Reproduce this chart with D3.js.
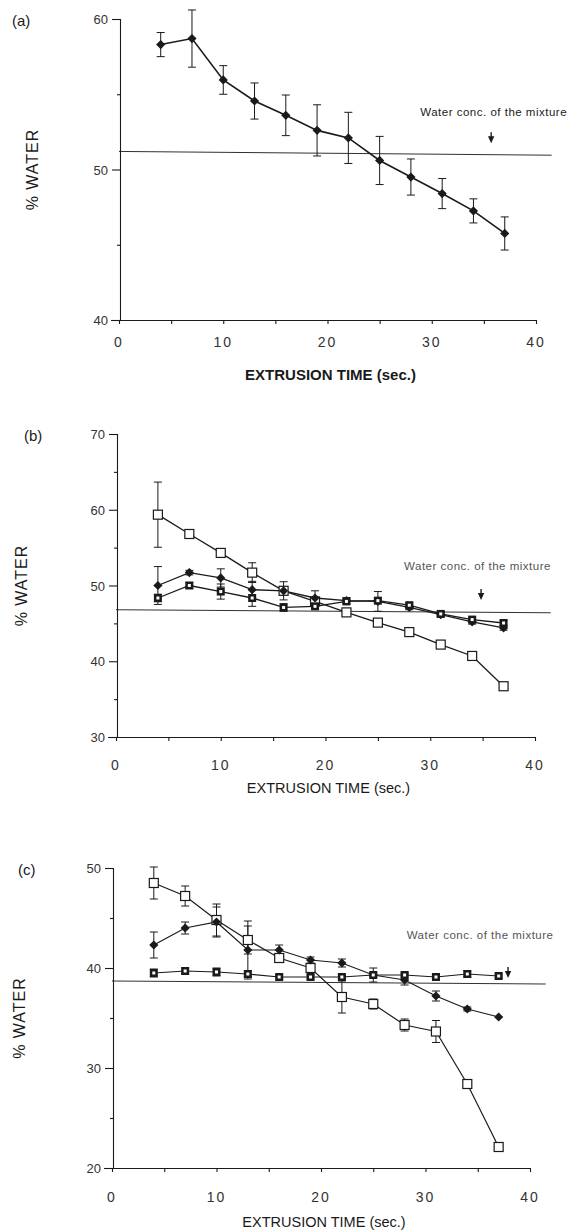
<!DOCTYPE html>
<html>
<head>
<meta charset="utf-8">
<script src="https://cdn.jsdelivr.net/npm/d3@7.9.0/dist/d3.min.js"></script>
<style>
  body { margin: 0; background: #fff; }
  svg { display: block; font-family: "Liberation Sans", Arial, sans-serif; }
</style>
</head>
<body>
<svg id="chart" width="583" height="1230"></svg>
<script>
// extrusion times (sec.)
const times = [4, 7, 10, 13, 16, 19, 22, 25, 28, 31, 34, 37];

// panel (a)
const aMean = [58.3, 58.7, 55.95, 54.55, 53.6, 52.6, 52.1, 50.6, 49.5, 48.4, 47.25, 45.75];
const aErr = [0.8, 1.9, 0.95, 1.2, 1.35, 1.7, 1.7, 1.6, 1.2, 1.0, 0.8, 1.1];
const aMix = [51.2, 50.95];

// panel (b)
const bOpenMean = [59.35, 56.8, 54.3, 51.7, 49.3, 47.9, 46.45, 45.1, 43.85, 42.2, 40.7, 36.7];
const bOpenErr = [4.3, 0.4, 0.3, 1.3, 0.5, 0, 0, 0, 0, 0, 0, 0];
const bDiamondMean = [50.0, 51.7, 51.0, 49.45, 49.3, 48.35, 48.0, 47.9, 47.1, 46.15, 45.2, 44.4];
const bDiamondErr = [2.5, 0.3, 1.2, 1.1, 1.2, 0.95, 0.4, 1.3, 0.3, 0.3, 0.3, 0.3];
const bSquareMean = [48.35, 50.0, 49.2, 48.35, 47.1, 47.25, 47.9, 48.0, 47.4, 46.25, 45.5, 45.05];
const bSquareErr = [0.5, 0.4, 1.0, 1.1, 0.5, 0.3, 0.3, 0.3, 0.3, 0.3, 0.3, 0.3];
const bMix = [46.8, 46.4];

// panel (c)
const cOpenMean = [48.5, 47.2, 44.8, 42.8, 41.0, 40.0, 37.1, 36.4, 34.3, 33.65, 28.4, 22.1];
const cOpenErr = [1.6, 1.0, 1.6, 1.4, 0.3, 0.3, 1.6, 0.5, 0.6, 1.1, 0, 0];
const cDiamondMean = [42.3, 44.0, 44.6, 41.8, 41.8, 40.8, 40.5, 39.3, 38.8, 37.2, 35.9, 35.1];
const cDiamondErr = [1.3, 0.6, 1.5, 2.9, 0.5, 0.3, 0.4, 0.7, 0.5, 0.5, 0.2, 0];
const cSquareMean = [39.5, 39.7, 39.6, 39.4, 39.1, 39.1, 39.1, 39.3, 39.3, 39.1, 39.4, 39.2];
const cSquareErr = [0.4, 0.3, 0.4, 0.3, 0.2, 0.2, 0.2, 0.2, 0.2, 0.2, 0.3, 0.2];
const cMix = [38.7, 38.4];

const xTicks = [0, 10, 20, 30, 40];
const mixLabel = 'Water conc. of the mixture';

const svg = d3.select('#chart');
const ink = '#1a1a1a';

function drawMarker(g, kind, cx, cy) {
  if (kind === 'diamond') {
    const r = 4.6;
    g.append('path')
      .attr('d', `M${cx},${cy - r}L${cx + r},${cy}L${cx},${cy + r}L${cx - r},${cy}Z`)
      .attr('fill', ink);
  } else if (kind === 'open') {
    g.append('rect')
      .attr('x', cx - 4.5).attr('y', cy - 4.5)
      .attr('width', 9).attr('height', 9)
      .attr('fill', '#fff').attr('stroke', ink).attr('stroke-width', 1.2);
  } else {
    g.append('rect')
      .attr('x', cx - 4).attr('y', cy - 4)
      .attr('width', 8).attr('height', 8)
      .attr('fill', ink);
    g.append('rect')
      .attr('x', cx - 1.5).attr('y', cy - 1.5)
      .attr('width', 3).attr('height', 3)
      .attr('fill', '#fff');
  }
}

function drawPanel(p) {
  const x = d3.scaleLinear().domain([0, 40]).range([p.left, p.right]);
  const y = d3.scaleLinear().domain(p.yDomain).range([p.bottom, p.top]);
  const g = svg.append('g');

  // axes
  const xAxis = d3.axisBottom(x).tickValues(d3.range(0, 41, 5)).tickSize(4).tickFormat('');
  const gx = g.append('g').attr('transform', `translate(0,${p.bottom})`).call(xAxis);
  gx.select('.domain').attr('d', `M${p.left - 8},0.5H${p.right}`);

  const yAxis = d3.axisLeft(y).tickValues(d3.range(p.yDomain[0], p.yDomain[1] + 1, 5)).tickSize(4).tickFormat('');
  const gy = g.append('g').attr('transform', `translate(${p.left + 1},0)`).call(yAxis);
  gy.select('.domain').attr('d', `M0.5,${p.top}V${p.bottom}`);
  g.selectAll('.domain, .tick line').attr('stroke', ink).attr('stroke-width', 1.1);
  gy.selectAll('.tick line').attr('x2', (d) => (d % 10 === 0 ? -8 : -3));

  g.selectAll('.xlab').data(xTicks).join('text')
    .attr('x', (d) => x(d)).attr('y', p.bottom + p.tickDy)
    .attr('text-anchor', 'middle').attr('font-size', 14).attr('fill', '#333')
    .attr('letter-spacing', 2)
    .text((d) => d);

  g.selectAll('.ylab').data(d3.range(p.yDomain[0], p.yDomain[1] + 1, 10)).join('text')
    .attr('x', p.left - 11).attr('y', (d) => y(d) + 5)
    .attr('text-anchor', 'end').attr('font-size', 13).attr('fill', '#333')
    .text((d) => d);

  g.append('text')
    .attr('x', (p.left + p.right) / 2 + 3).attr('y', p.bottom + p.titleDy)
    .attr('text-anchor', 'middle').attr('font-size', p.bold ? 15 : 14.5)
    .attr('font-weight', p.bold ? 'bold' : 'normal').attr('fill', ink)
    .text('EXTRUSION TIME (sec.)');

  g.append('text')
    .attr('transform', `translate(${p.yTitleX},${(p.top + p.bottom) / 2}) rotate(-90)`)
    .attr('text-anchor', 'middle').attr('font-size', 16).attr('fill', ink)
    .attr('letter-spacing', 1)
    .text('% WATER');

  g.append('text')
    .attr('x', p.tagX).attr('y', p.top + 7)
    .attr('font-size', 15).attr('fill', ink)
    .text(p.tag);

  // mixture reference line
  g.append('line')
    .attr('x1', p.left).attr('x2', x(41.5))
    .attr('y1', y(p.mix[0])).attr('y2', y(p.mix[1]))
    .attr('stroke', ink).attr('stroke-width', 0.9);

  g.append('text')
    .attr('x', x(p.labelX)).attr('y', y(p.labelY))
    .attr('font-size', 11.5).attr('letter-spacing', 0.5).attr('fill', p.labelColor)
    .text(mixLabel);

  const ax = x(p.arrowX);
  const ay = y(p.arrowY);
  g.append('line').attr('x1', ax).attr('x2', ax).attr('y1', ay - 11).attr('y2', ay - 3)
    .attr('stroke', ink).attr('stroke-width', 1.4);
  g.append('path').attr('d', `M${ax - 3.2},${ay - 7}L${ax + 3.2},${ay - 7}L${ax},${ay}Z`).attr('fill', ink);

  // series
  const line = d3.line().x((d) => x(d[0])).y((d) => y(d[1]));
  p.series.forEach((s) => {
    const pts = times.map((t, i) => [t, s.mean[i], s.err[i]]);
    g.append('path').datum(pts).attr('d', line)
      .attr('fill', 'none').attr('stroke', ink).attr('stroke-width', p.lineWidth);

    pts.filter((d) => d[2] > 0).forEach((d) => {
      const cx = x(d[0]);
      const y1 = y(d[1] + d[2]);
      const y2 = y(d[1] - d[2]);
      g.append('line').attr('x1', cx).attr('x2', cx).attr('y1', y1).attr('y2', y2)
        .attr('stroke', ink).attr('stroke-width', 1);
      [y1, y2].forEach((yy) => {
        g.append('line').attr('x1', cx - 4).attr('x2', cx + 4).attr('y1', yy).attr('y2', yy)
          .attr('stroke', ink).attr('stroke-width', 1);
      });
    });
  });
  p.series.forEach((s) => {
    times.forEach((t, i) => drawMarker(g, s.kind, x(t), y(s.mean[i])));
  });
}

drawPanel({
  tag: '(a)', tagX: 12, bold: true, yTitleX: 38, tickDy: 27, titleDy: 60,
  left: 119, right: 536, top: 19, bottom: 320, yDomain: [40, 60],
  mix: aMix, labelX: 28.9, labelY: 53.55, labelColor: '#222',
  arrowX: 35.7, arrowY: 51.75, lineWidth: 1.6,
  series: [{ kind: 'diamond', mean: aMean, err: aErr }],
});

drawPanel({
  tag: '(b)', tagX: 24, bold: false, yTitleX: 27, tickDy: 33, titleDy: 56,
  left: 116, right: 535, top: 434, bottom: 737, yDomain: [30, 70],
  mix: bMix, labelX: 27.5, labelY: 52.05, labelColor: '#555',
  arrowX: 34.85, arrowY: 48.1, lineWidth: 1.3,
  series: [
    { kind: 'open', mean: bOpenMean, err: bOpenErr },
    { kind: 'diamond', mean: bDiamondMean, err: bDiamondErr },
    { kind: 'square', mean: bSquareMean, err: bSquareErr },
  ],
});

drawPanel({
  tag: '(c)', tagX: 18, bold: false, yTitleX: 25, tickDy: 34, titleDy: 59,
  left: 112, right: 530, top: 868, bottom: 1168, yDomain: [20, 50],
  mix: cMix, labelX: 28.2, labelY: 42.9, labelColor: '#555',
  arrowX: 37.9, arrowY: 39.0, lineWidth: 1.2,
  series: [
    { kind: 'open', mean: cOpenMean, err: cOpenErr },
    { kind: 'diamond', mean: cDiamondMean, err: cDiamondErr },
    { kind: 'square', mean: cSquareMean, err: cSquareErr },
  ],
});
</script>
</body>
</html>
